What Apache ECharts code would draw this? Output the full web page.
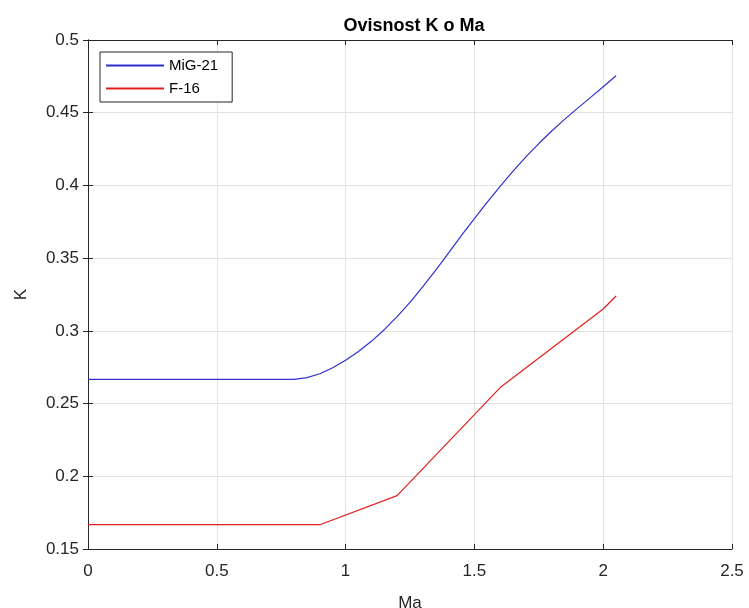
<!DOCTYPE html>
<html><head><meta charset="utf-8">
<script src="https://cdn.jsdelivr.net/npm/echarts@6/dist/echarts.min.js"></script>
<style>html,body{margin:0;padding:0;background:#fff}#c{width:749px;height:608px}</style>
</head><body><div id="c"></div>
<script>
const titleText = 'Ovisnost K o Ma';
const xLabel = 'Ma';
const yLabel = 'K';
const seriesNames = ['MiG-21', 'F-16'];
const migMa = [0, 0.8, 0.85, 0.9, 0.95, 1.0, 1.05, 1.1, 1.15, 1.2, 1.25, 1.3, 1.35, 1.4, 1.45, 1.5, 1.55, 1.6, 1.65, 1.7, 1.75, 1.8, 1.85, 1.9, 1.95, 2.0, 2.05];
const migK  = [0.2667, 0.2667, 0.2678, 0.2705, 0.2746, 0.2798, 0.2858, 0.2928, 0.3008, 0.3098, 0.3196, 0.3304, 0.3418, 0.3536, 0.3656, 0.3772, 0.3886, 0.3994, 0.4098, 0.4196, 0.4288, 0.4374, 0.4454, 0.4530, 0.4604, 0.4679, 0.4754];
const f16Ma = [0, 0.9, 1.2, 1.6, 2.0, 2.05];
const f16K  = [0.1667, 0.1667, 0.1867, 0.2610, 0.3150, 0.3240];
const xTicks = [0, 0.5, 1, 1.5, 2, 2.5];
const yTicks = [0.15, 0.2, 0.25, 0.3, 0.35, 0.4, 0.45, 0.5];

const font = 'Liberation Sans, Arial, sans-serif';
const axisColor = '#262626';
const pair = (xs, ys) => xs.map((x, i) => [x, ys[i]]);

const chart = echarts.init(document.getElementById('c'), null, {renderer: 'canvas'});
const grid = {left: 88, top: 40, width: 644, height: 509, containLabel: false, outerBoundsMode: 'none'};
const baseAxis = {
  axisLine: {show: true, lineStyle: {color: axisColor, width: 1}},
  axisTick: {show: true, inside: true, length: 5, lineStyle: {color: axisColor}},
  splitLine: {show: false}
};
chart.setOption({
  animation: false,
  title: {text: titleText, left: 409, top: 12, textAlign: 'center',
    textStyle: {fontFamily: font, fontWeight: 'bold', fontSize: 18, color: '#000'}},
  grid: grid,
  legend: {
    left: 100, top: 52, orient: 'vertical', itemWidth: 58, itemHeight: 2, itemGap: 8,
    padding: [6, 14, 6, 6],
    borderColor: axisColor, borderWidth: 1, backgroundColor: '#fff',
    icon: 'rect',
    textStyle: {fontFamily: font, fontSize: 15, color: '#000'},
    data: seriesNames
  },
  xAxis: [
    Object.assign({}, baseAxis, {type: 'value', min: 0, max: 2.5, interval: 0.5, position: 'bottom',
      name: xLabel, nameLocation: 'middle', nameGap: 46,
      nameTextStyle: {fontFamily: font, fontSize: 17, color: axisColor},
      axisLabel: {fontFamily: font, fontSize: 17, color: axisColor, margin: 14,
        formatter: v => xTicks.includes(+v.toFixed(2)) ? String(+v.toFixed(2)) : ''},
      splitLine: {show: true, lineStyle: {color: '#e3e3e3', width: 1}}}),
    Object.assign({}, baseAxis, {type: 'value', min: 0, max: 2.5, interval: 0.5, position: 'top',
      axisLabel: {show: false}})
  ],
  yAxis: [
    Object.assign({}, baseAxis, {type: 'value', min: 0.15, max: 0.5, interval: 0.05, position: 'left',
      name: yLabel, nameLocation: 'middle', nameGap: 58, nameRotate: 90,
      nameTextStyle: {fontFamily: font, fontSize: 17, color: axisColor},
      axisLabel: {fontFamily: font, fontSize: 17, color: axisColor, margin: 9,
        formatter: v => String(+v.toFixed(2))},
      splitLine: {show: true, lineStyle: {color: '#e3e3e3', width: 1}}}),
    Object.assign({}, baseAxis, {type: 'value', min: 0.15, max: 0.5, interval: 0.05, position: 'right',
      axisLabel: {show: false}})
  ],
  series: [
    {name: seriesNames[0], type: 'line', data: pair(migMa, migK), smooth: false, symbol: 'none',
      lineStyle: {color: '#3030d0', width: 1.2}, itemStyle: {color: '#3030d0'}},
    {name: seriesNames[1], type: 'line', data: pair(f16Ma, f16K), symbol: 'none',
      lineStyle: {color: '#e02020', width: 1.2}, itemStyle: {color: '#e02020'}}
  ]
});
</script></body></html>
